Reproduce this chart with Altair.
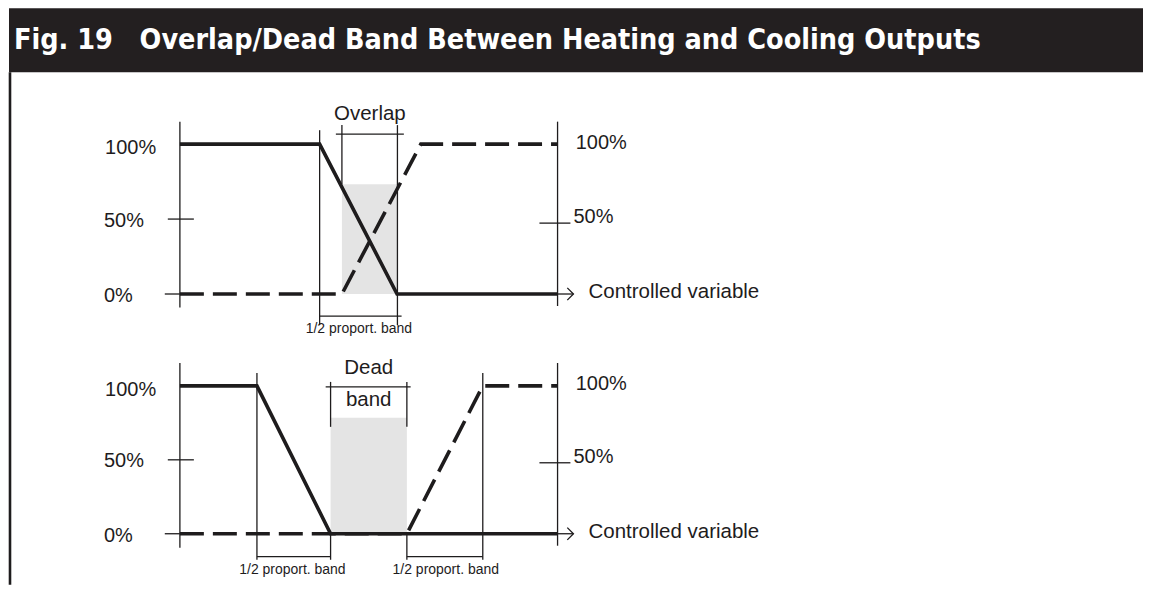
import altair as alt
import pandas as pd

# ---------------- data (x: controlled variable, 0 = left axis, 100 = right axis; y: output %) ----
TITLE = "Fig. 19\u00a0\u00a0\u00a0Overlap/Dead Band Between Heating and Cooling Outputs"

top_heat_x = [0, 37.0, 57.5, 100]
top_heat_y = [100, 100, 0, 0]
top_cool_x = [0, 42.9, 63.8, 100]
top_cool_y = [0, 0, 100, 100]
top_shade = [42.9, 57.5, 73.3]          # overlap: x from, x to, shaded height

bot_heat_x = [0, 20.4, 39.9, 100]
bot_heat_y = [100, 100, 0, 0]
bot_cool_x = [0, 60.1, 80.2, 100]
bot_cool_y = [0, 0, 100, 100]
bot_shade = [39.9, 60.1, 78.4]          # dead band: x from, x to, shaded height

pct_labels = ["100%", "50%", "0%"]
right_labels = ["100%", "50%", "Controlled variable"]
band_label = "1/2 proport. band"

# guide segments (x1, y1, x2, y2)
top_rules = [
    (0, 115, 0, -9), (100, 115, 100, -8),
    (-3.2, 50, 3.7, 50), (95.2, 47.3, 103.4, 47.3),
    (-4, 0, 0, 0), (100, 0, 104.2, 0),
    (37.0, 109.3, 37.0, -20.7),
    (42.9, 112.7, 42.9, 73.3), (57.6, 112.7, 57.6, -20.7),
    (41.3, 106.7, 59.3, 106.7),
    (37.0, -14.7, 58.7, -14.7),
]
bot_rules = [
    (0, 115.5, 0, -9.5), (100, 115.5, 100, -8.1),
    (-3.2, 50, 3.7, 50), (95.2, 48, 103.4, 48),
    (-4, 0, 0, 0), (100, 0, 104.2, 0),
    (20.4, 108.8, 20.4, -17.6), (80.2, 108.8, 80.2, -17.6),
    (39.9, 102.7, 39.9, 72.3), (60.1, 102.7, 60.1, 72.3),
    (39.9, 0, 39.9, -17.6), (60.1, 0, 60.1, -17.6),
    (38.6, 99.3, 61.1, 99.3),
    (20.4, -15.5, 39.9, -15.5), (60.1, -15.5, 80.2, -15.5),
]

# text: (x, y, text, size)
top_left_texts = [
    (-19.8, 97.3, pct_labels[0], 20), (-20.1, 48.7, pct_labels[1], 20), (-20.1, -1.3, pct_labels[2], 20),
    (104.8, 100.7, right_labels[0], 20), (104.2, 51.3, right_labels[1], 20), (108.2, 1.3, right_labels[2], 20.5),
]
top_center_texts = [
    (50.3, 120.0, "Overlap", 20.5),
    (47.4, -23.3, band_label, 14),
]
bot_left_texts = [
    (-19.8, 97.3, pct_labels[0], 20), (-20.1, 49.3, pct_labels[1], 20), (-20.1, -1.4, pct_labels[2], 20),
    (104.8, 101.4, right_labels[0], 20), (104.2, 52.0, right_labels[1], 20), (108.2, 1.4, right_labels[2], 20.5),
]
bot_center_texts = [
    (50.0, 112.2, "Dead", 20.5), (50.0, 90.5, "band", 20.5),
    (29.8, -24.3, band_label, 14), (70.4, -24.3, band_label, 14),
]

# ---------------- layout ----------------
INK = "#1e1c1d"
FONT = "Liberation Sans"
W = 1135
TITLE_H = 64
PX_X = 3.78
X_MIN = -45.25
X_MAX = X_MIN + W / PX_X


def panel(hx, hy, cx, cy, shade, rules, ltexts, ctexts, ydom, height):
    xs = alt.Scale(domain=[X_MIN, X_MAX], nice=False, zero=False)
    ys = alt.Scale(domain=ydom, nice=False, zero=False)
    X = lambda f: alt.X(f, type="quantitative", scale=xs, axis=None)
    Y = lambda f: alt.Y(f, type="quantitative", scale=ys, axis=None)

    shade_df = pd.DataFrame({"x": [shade[0]], "x2": [shade[1]], "y": [0], "y2": [shade[2]]})
    rules_df = pd.DataFrame(rules, columns=["x", "y", "x2", "y2"])
    heat_df = pd.DataFrame({"x": hx, "y": hy, "i": range(len(hx))})
    cool_df = pd.DataFrame({"x": cx, "y": cy, "i": range(len(cx))})
    lt_df = pd.DataFrame(ltexts, columns=["x", "y", "t", "s"])
    ct_df = pd.DataFrame(ctexts, columns=["x", "y", "t", "s"])
    arrow_df = pd.DataFrame({"x": [rules[5][2]], "y": [0]})

    border = alt.Chart(pd.DataFrame({"a": [0]})).mark_rule(color=INK, strokeWidth=2.6).encode(
        x=alt.value(1.0), y=alt.value(0), y2=alt.value(height))
    shade_l = alt.Chart(shade_df).mark_rect(color="#e4e4e4").encode(
        x=X("x"), x2="x2", y=Y("y"), y2="y2")
    rules_l = alt.Chart(rules_df).mark_rule(color=INK, strokeWidth=1.3).encode(
        x=X("x"), x2="x2", y=Y("y"), y2="y2")
    cool_l = alt.Chart(cool_df).mark_line(color=INK, strokeWidth=3.6, strokeDash=[24, 9]).encode(
        x=X("x"), y=Y("y"), order="i:O")
    heat_l = alt.Chart(heat_df).mark_line(color=INK, strokeWidth=3.6).encode(
        x=X("x"), y=Y("y"), order="i:O")
    arrow_l = alt.Chart(arrow_df).mark_point(
        shape="M-1,-1L0,0L-1,1", filled=False, size=150, color=INK, strokeWidth=1.3, opacity=1
    ).encode(x=X("x"), y=Y("y"))
    lt_l = alt.Chart(lt_df).mark_text(align="left", baseline="middle", font=FONT, color=INK).encode(
        x=X("x"), y=Y("y"), text="t:N", size=alt.Size("s:Q", scale=None, legend=None))
    ct_l = alt.Chart(ct_df).mark_text(align="center", baseline="middle", font=FONT, color=INK).encode(
        x=X("x"), y=Y("y"), text="t:N", size=alt.Size("s:Q", scale=None, legend=None))
    return alt.layer(border, shade_l, rules_l, cool_l, heat_l, arrow_l, lt_l, ct_l).properties(
        width=W, height=height)


title_df = pd.DataFrame({"t": [TITLE]})
title_bg = alt.Chart(title_df).mark_rect(color="#231f20").encode(
    x=alt.value(0), x2=alt.value(W), y=alt.value(0), y2=alt.value(TITLE_H))
title_txt = alt.Chart(title_df).mark_text(
    align="left", baseline="middle", color="white", fontSize=28.5, fontWeight="bold",
    font="DejaVu Sans Condensed"
).encode(x=alt.value(5), y=alt.value(32), text="t:N")
title_chart = alt.layer(title_bg, title_txt).properties(width=W, height=TITLE_H)

top = panel(top_heat_x, top_heat_y, top_cool_x, top_cool_y, top_shade, top_rules,
            top_left_texts, top_center_texts, [-26, 148], 261)
bot = panel(bot_heat_x, bot_heat_y, bot_cool_x, bot_cool_y, bot_shade, bot_rules,
            bot_left_texts, bot_center_texts, [-34.5, 135.8], 252)

chart = alt.vconcat(title_chart, top, bot, spacing=0, bounds="flush").properties(
    padding=0, background="white"
).configure_view(strokeWidth=0)

chart.save("out.html", embed_options={"renderer": "svg", "actions": False})
